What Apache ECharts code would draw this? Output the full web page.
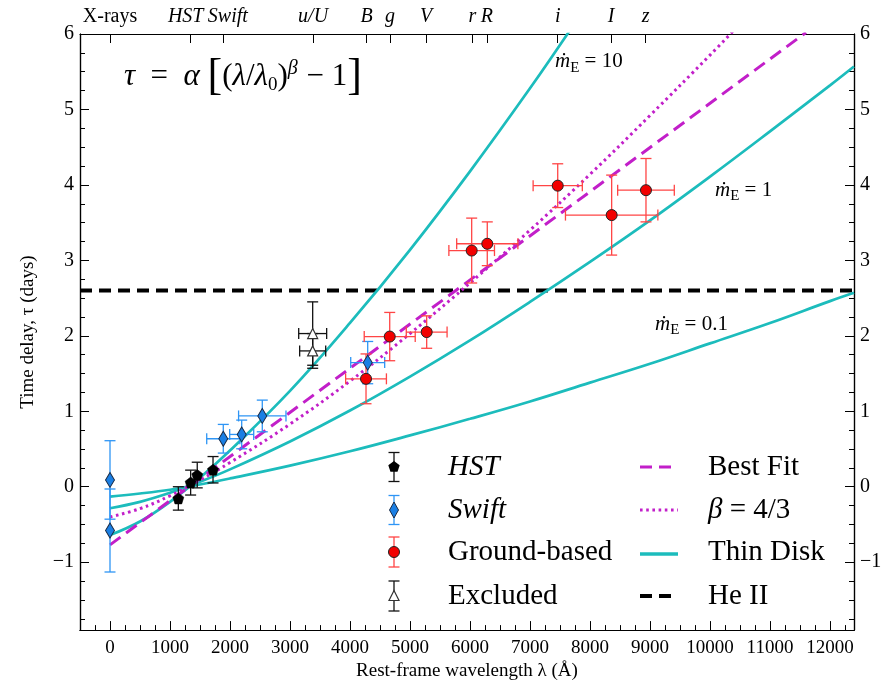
<!DOCTYPE html>
<html>
<head>
<meta charset="utf-8">
<script src="https://cdn.jsdelivr.net/npm/echarts@6/dist/echarts.min.js"></script>
<style>
  html, body { margin: 0; padding: 0; background: #fff; }
  #main { width: 896px; height: 686px; }
</style>
</head>
<body>
<div id="main"></div>
<script>
// data (rest-frame wavelength in A, lag in days)
const hstLam = [1139, 1344, 1454, 1717];
const hstTau = [-0.155, 0.055, 0.155, 0.225];
const hstErr = [0.155, 0.165, 0.17, 0.175];

const swiftLam = [0, 0, 1888, 2195, 2538, 4295];
const swiftTau = [0.09, -0.58, 0.636, 0.693, 0.938, 1.645];
const swiftErr = [0.52, 0.55, 0.19, 0.19, 0.21, 0.28];
const swiftLamErr = [0, 0, 276, 200, 395, 283];

const groundLam = [4267, 4662, 5278, 6028, 6288, 7462, 8361, 8933];
const groundTau = [1.43, 1.99, 2.05, 3.13, 3.22, 3.99, 3.60, 3.93];
const groundErr = [0.33, 0.32, 0.215, 0.43, 0.29, 0.29, 0.53, 0.42];
const groundLamErr = [340, 425, 340, 380, 510, 410, 770, 472];

const exclLam = [3378, 3378];
const exclTau = [2.03, 1.80];
const exclErr = [0.42, 0.23];
const exclLamErr = [233, 217];

// model curves
const bestLam = [0, 4000, 8000, 11600];
const bestTau = [-0.77, 1.57, 3.91, 6.02];

const betaLam = [0, 500, 1000, 1500, 2000, 3000, 4000, 5000, 6000, 7000, 8000, 9000, 10000, 10400];
const betaTau = [-0.40, -0.29, -0.12, 0.09, 0.32, 0.83, 1.40, 2.03, 2.70, 3.40, 4.14, 4.92, 5.72, 6.05];

const disk10Lam = [0, 500, 1000, 1500, 2000, 3000, 4000, 5000, 6000, 7000, 7700];
const disk10Tau = [-0.64, -0.46, -0.20, 0.12, 0.48, 1.27, 2.17, 3.14, 4.18, 5.28, 6.09];

const diskLam = [0, 500, 1000, 1500, 2000, 3000, 4000, 5000, 6000, 7000, 8000, 9000, 10000, 11000, 12000, 12400];
const disk1Tau = [-0.285, -0.20, -0.08, 0.065, 0.23, 0.60, 1.01, 1.46, 1.94, 2.45, 2.98, 3.53, 4.11, 4.71, 5.32, 5.57];
const disk01Tau = [-0.13, -0.09, -0.04, 0.03, 0.11, 0.28, 0.47, 0.68, 0.90, 1.13, 1.38, 1.63, 1.90, 2.17, 2.46, 2.57];

const heLam = [-500, 12400];
const heTau = [2.6, 2.6];

// axes
const xTicks = [0, 1000, 2000, 3000, 4000, 5000, 6000, 7000, 8000, 9000, 10000, 11000, 12000];
const yTicks = [-1, 0, 1, 2, 3, 4, 5, 6];
const filterLam = [0, 1345, 1880, 3385, 4278, 4667, 5267, 6038, 6283, 7462, 8350, 8928];
const filterNames = ['X-rays', 'HST', 'Swift', 'u/U', 'B', 'g', 'V', 'r', 'R', 'i', 'I', 'z'];

const xMinor = [];
for (let v = -250; v <= 12250; v += 250) xMinor.push(v);
const yMinor = [];
for (let v = -1.75; v <= 5.8; v += 0.25) yMinor.push(+v.toFixed(2));

const FONT = 'Liberation Serif';
const CYAN = '#1cbcbc';
const MAG = '#c21fc9';
const BLUE_BAR = '#2e95f5';
const BLUE = '#1a7fe4';
const RED_BAR = '#ff4545';
const RED = '#f20000';

const zip = (a, b) => a.map((v, i) => [v, b[i]]);
const errData = (lam, tau, lamErr, tauErr) =>
  lam.map((l, i) => [l, tau[i], lamErr ? lamErr[i] : 0, tauErr[i]]);

function renderErr(params, api) {
  const x = api.value(0), y = api.value(1), ex = api.value(2), ey = api.value(3);
  const color = api.visual('color');
  const cap = 5.5;
  const st = { stroke: color, lineWidth: 1.3 };
  const kids = [];
  const t = api.coord([x, y + ey]), b = api.coord([x, y - ey]);
  kids.push({ type: 'line', shape: { x1: t[0], y1: t[1], x2: b[0], y2: b[1] }, style: st });
  kids.push({ type: 'line', shape: { x1: t[0] - cap, y1: t[1], x2: t[0] + cap, y2: t[1] }, style: st });
  kids.push({ type: 'line', shape: { x1: b[0] - cap, y1: b[1], x2: b[0] + cap, y2: b[1] }, style: st });
  if (ex > 0) {
    const l = api.coord([x - ex, y]), r = api.coord([x + ex, y]);
    kids.push({ type: 'line', shape: { x1: l[0], y1: l[1], x2: r[0], y2: r[1] }, style: st });
    kids.push({ type: 'line', shape: { x1: l[0], y1: l[1] - cap, x2: l[0], y2: l[1] + cap }, style: st });
    kids.push({ type: 'line', shape: { x1: r[0], y1: r[1] - cap, x2: r[0], y2: r[1] + cap }, style: st });
  }
  return { type: 'group', children: kids };
}

const PENTA = 'path://M0,-10L9.51,-3.09L5.88,8.09L-5.88,8.09L-9.51,-3.09Z';

function xAxisBase(pos, ticks, len, labels) {
  return {
    type: 'value', min: -500, max: 12400, position: pos,
    axisLine: { show: true, onZero: false, lineStyle: { color: '#000', width: 1.2 } },
    axisTick: { show: true, inside: true, length: len, customValues: ticks, lineStyle: { color: '#000', width: 1 } },
    axisLabel: labels || { show: false },
    splitLine: { show: false }
  };
}
function yAxisBase(pos, ticks, len, labels) {
  return {
    type: 'value', min: -1.9, max: 6, position: pos,
    axisLine: { show: true, onZero: false, lineStyle: { color: '#000', width: 1.2 } },
    axisTick: { show: true, inside: true, length: len, customValues: ticks, lineStyle: { color: '#000', width: 1 } },
    axisLabel: labels || { show: false },
    splitLine: { show: false }
  };
}
const yLab = {
  customValues: yTicks, fontFamily: FONT, fontSize: 20, color: '#000', margin: 6,
  formatter: v => (v < 0 ? '\u2212' + Math.abs(v) : String(v))
};

const topRich = {
  u: { fontFamily: FONT, fontSize: 20, color: '#000' },
  it: { fontFamily: FONT, fontSize: 20, fontStyle: 'italic', color: '#000' },
  hst: { fontFamily: FONT, fontSize: 20, fontStyle: 'italic', color: '#000', padding: [0, 10, 0, 0] },
  sw: { fontFamily: FONT, fontSize: 20, fontStyle: 'italic', color: '#000', padding: [0, 0, 0, 10] }
};

const xAxes = [
  Object.assign(xAxisBase('bottom', xTicks, 9, {
    customValues: xTicks, fontFamily: FONT, fontSize: 19, color: '#000', margin: 8,
    formatter: v => String(v)
  }), {
    name: 'Rest-frame wavelength \u03bb (\u00c5)', nameLocation: 'middle', nameGap: 30,
    nameTextStyle: { fontFamily: FONT, fontSize: 19, color: '#000' }
  }),
  xAxisBase('bottom', xMinor, 5),
  xAxisBase('top', filterLam, 9, {
    customValues: filterLam, color: '#000', margin: 7,
    formatter: v => {
      const n = filterNames[filterLam.indexOf(v)];
      if (n === 'X-rays') return '{u|' + n + '}';
      if (n === 'HST') return '{hst|' + n + '}';
      if (n === 'Swift') return '{sw|' + n + '}';
      return '{it|' + n + '}';
    },
    rich: topRich
  })
];
const yAxes = [
  Object.assign(yAxisBase('left', yTicks, 9, yLab), {
    name: 'Time delay, \u03c4 (days)', nameLocation: 'middle', nameGap: 42,
    nameTextStyle: { fontFamily: FONT, fontSize: 19, color: '#000' }
  }),
  yAxisBase('left', yMinor, 5),
  yAxisBase('right', yTicks, 9, yLab),
  yAxisBase('right', yMinor, 5)
];

const mdotRich = {
  m: { fontFamily: FONT, fontSize: 21, fontStyle: 'italic', color: '#000' },
  e: { fontFamily: FONT, fontSize: 15, color: '#000', verticalAlign: 'bottom', lineHeight: 27 },
  n: { fontFamily: FONT, fontSize: 21, color: '#000' }
};
const mdotLabels = [
  { value: [7417, 5.63], label: { formatter: '{m|\u1e41}{e|E}{n| = 10}' } },
  { value: [10083, 3.93], label: { formatter: '{m|\u1e41}{e|E}{n| = 1}' } },
  { value: [9083, 2.15], label: { formatter: '{m|\u1e41}{e|E}{n| = 0.1}' } }
];

const series = [
  { name: 'He II', type: 'line', data: zip(heLam, heTau), symbol: 'none', z: 2,
    lineStyle: { color: '#000', width: 4, type: [12, 7] } },
  { name: 'Thin Disk', type: 'line', data: zip(disk10Lam, disk10Tau), symbol: 'none', smooth: 0.4, z: 2,
    lineStyle: { color: CYAN, width: 2.7 } },
  { name: 'Thin Disk 1', type: 'line', data: zip(diskLam, disk1Tau), symbol: 'none', smooth: 0.4, z: 2,
    lineStyle: { color: CYAN, width: 2.7 } },
  { name: 'Thin Disk 0.1', type: 'line', data: zip(diskLam, disk01Tau), symbol: 'none', smooth: 0.4, z: 2,
    lineStyle: { color: CYAN, width: 2.7 } },
  { name: 'Best Fit', type: 'line', data: zip(bestLam, bestTau), symbol: 'none', z: 2,
    lineStyle: { color: MAG, width: 3, type: [13, 7] } },
  { name: '\u03b2 = 4/3', type: 'line', data: zip(betaLam, betaTau), symbol: 'none', smooth: 0.4, z: 2,
    lineStyle: { color: MAG, width: 3, type: [2.6, 3.6] } },

  { type: 'custom', renderItem: renderErr, data: errData(exclLam, exclTau, exclLamErr, exclErr),
    itemStyle: { color: '#111' }, z: 3, clip: true },
  { type: 'custom', renderItem: renderErr, data: errData(hstLam, hstTau, null, hstErr),
    itemStyle: { color: '#111' }, z: 3, clip: true },
  { type: 'custom', renderItem: renderErr, data: errData(swiftLam, swiftTau, swiftLamErr, swiftErr),
    itemStyle: { color: BLUE_BAR }, z: 3, clip: true },
  { type: 'custom', renderItem: renderErr, data: errData(groundLam, groundTau, groundLamErr, groundErr),
    itemStyle: { color: RED_BAR }, z: 3, clip: true },

  { name: 'Excluded', type: 'scatter', data: zip(exclLam, exclTau), symbol: 'triangle', symbolSize: [10, 10], z: 4,
    itemStyle: { color: '#fff', borderColor: '#333', borderWidth: 1.2, opacity: 1 } },
  { name: 'HST', type: 'scatter', data: zip(hstLam, hstTau), symbol: PENTA, symbolSize: 11, z: 4,
    itemStyle: { color: '#000', borderColor: '#000', borderWidth: 0.5, opacity: 1 } },
  { name: 'Swift', type: 'scatter', data: zip(swiftLam, swiftTau), symbol: 'diamond', symbolSize: [9, 15], z: 4,
    itemStyle: { color: BLUE, borderColor: '#1a2a44', borderWidth: 1, opacity: 1 } },
  { name: 'Ground-based', type: 'scatter', data: zip(groundLam, groundTau), symbol: 'circle', symbolSize: 11, z: 4,
    itemStyle: { color: RED, borderColor: '#222', borderWidth: 1, opacity: 1 } },

  { type: 'scatter', data: mdotLabels, symbolSize: 0, z: 5, silent: true, itemStyle: { opacity: 1 },
    label: { show: true, position: 'right', distance: 0, color: '#000', rich: mdotRich } }
];

// legend (drawn with graphic elements to mimic the error-bar symbols)
function barIcon(cx, cy, half, color) {
  const st = { stroke: color, lineWidth: 1.3 };
  return [
    { type: 'line', shape: { x1: cx, y1: cy - half, x2: cx, y2: cy + half }, style: st },
    { type: 'line', shape: { x1: cx - 5.5, y1: cy - half, x2: cx + 5.5, y2: cy - half }, style: st },
    { type: 'line', shape: { x1: cx - 5.5, y1: cy + half, x2: cx + 5.5, y2: cy + half }, style: st }
  ];
}
function pentaPts(cx, cy, r) {
  const p = [];
  for (let k = 0; k < 5; k++) {
    const a = -Math.PI / 2 + k * 2 * Math.PI / 5;
    p.push([cx + r * Math.cos(a), cy + r * Math.sin(a)]);
  }
  return p;
}
function legText(x, y, txt, italic) {
  return { type: 'text', x: x, y: y, style: {
    text: txt, fontFamily: FONT, fontSize: 29, fontStyle: italic ? 'italic' : 'normal',
    fill: '#000', verticalAlign: 'middle', align: 'left' } };
}
const IX = 394, TX = 448, LX1 = 640, LX2 = 676, TX2 = 708;
const rows = [467, 510, 552, 596];
const legend = [].concat(
  barIcon(IX, rows[0], 14.5, '#111'),
  [{ type: 'polygon', shape: { points: pentaPts(IX, rows[0], 6) }, style: { fill: '#000' } }],
  barIcon(IX, rows[1], 14.5, BLUE_BAR),
  [{ type: 'polygon', shape: { points: [[IX, rows[1] - 8], [IX + 4.5, rows[1]], [IX, rows[1] + 8], [IX - 4.5, rows[1]]] },
     style: { fill: BLUE, stroke: '#1a2a44', lineWidth: 1 } }],
  barIcon(IX, rows[2], 15, RED_BAR),
  [{ type: 'circle', shape: { cx: IX, cy: rows[2], r: 5.5 }, style: { fill: RED, stroke: '#222', lineWidth: 1 } }],
  barIcon(IX, rows[3], 15, '#111'),
  [{ type: 'polygon', shape: { points: [[IX, rows[3] - 5.5], [IX + 5, rows[3] + 4.5], [IX - 5, rows[3] + 4.5]] },
     style: { fill: '#fff', stroke: '#333', lineWidth: 1.2 } }],
  [
    legText(TX, rows[0], 'HST', true),
    legText(TX, rows[1], 'Swift', true),
    legText(TX, rows[2], 'Ground-based', false),
    legText(TX, rows[3], 'Excluded', false),
    { type: 'line', shape: { x1: LX1, y1: rows[0], x2: LX2 - 4, y2: rows[0] }, style: { stroke: MAG, lineWidth: 3, lineDash: [12, 7] } },
    { type: 'line', shape: { x1: LX1, y1: rows[1], x2: LX2 + 2, y2: rows[1] }, style: { stroke: MAG, lineWidth: 3, lineDash: [2.6, 3.6] } },
    { type: 'line', shape: { x1: LX1, y1: rows[2] + 2, x2: LX2 + 2, y2: rows[2] + 2 }, style: { stroke: CYAN, lineWidth: 3.5 } },
    { type: 'line', shape: { x1: LX1, y1: rows[3], x2: LX2 - 4, y2: rows[3] }, style: { stroke: '#000', lineWidth: 4, lineDash: [12, 7] } },
    legText(TX2, rows[0], 'Best Fit', false),
    { type: 'text', x: TX2, y: rows[1], style: {
      text: '{i|\u03b2}{n| = 4/3}', verticalAlign: 'middle',
      rich: { i: { fontFamily: FONT, fontSize: 29, fontStyle: 'italic', fill: '#000' },
              n: { fontFamily: FONT, fontSize: 29, fill: '#000' } } } },
    legText(TX2, rows[2], 'Thin Disk', false),
    legText(TX2, rows[3], 'He II', false)
  ]
);

const formula = {
  type: 'text', x: 124, y: 77, style: {
    text: '{i|\u03c4}{n|  =  }{i|\u03b1}{n| }{b|[}{n|(}{i|\u03bb}{n|/}{i|\u03bb}{s|0}{n|)}{p|\u03b2}{n| \u2212 1}{b|]}',
    verticalAlign: 'middle',
    rich: {
      i: { fontFamily: FONT, fontSize: 31, fontStyle: 'italic', fill: '#000', lineHeight: 46 },
      n: { fontFamily: FONT, fontSize: 31, fill: '#000', lineHeight: 46 },
      b: { fontFamily: FONT, fontSize: 44, fill: '#000', lineHeight: 46 },
      s: { fontFamily: FONT, fontSize: 19, fill: '#000', verticalAlign: 'bottom', lineHeight: 46, padding: [0, 0, 5, 0] },
      p: { fontFamily: FONT, fontSize: 20, fontStyle: 'italic', fill: '#000', verticalAlign: 'top', lineHeight: 46, padding: [5, 1, 0, 0] }
    }
  }
};

const chart = echarts.init(document.getElementById('main'), null, { renderer: 'canvas' });
chart.setOption({
  animation: false,
  backgroundColor: '#fff',
  grid: { left: 80, right: 42, top: 34, bottom: 52, containLabel: false },
  xAxis: xAxes,
  yAxis: yAxes,
  series: series,
  graphic: [formula].concat(legend)
});
</script>
</body>
</html>
